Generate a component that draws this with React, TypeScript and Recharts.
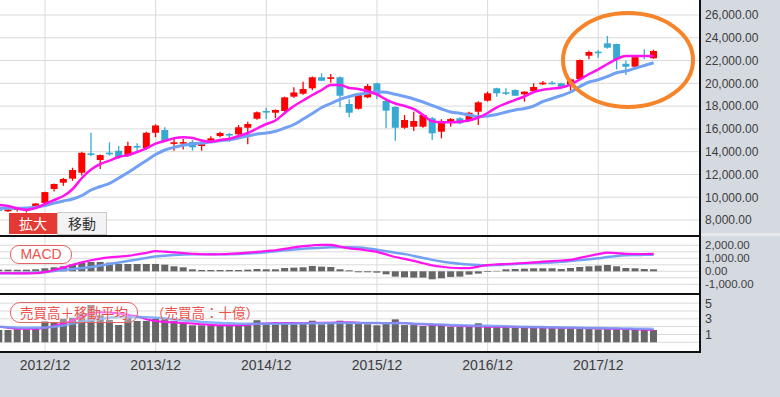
import React from 'react';
import { ComposedChart, Bar, Line, XAxis, YAxis, CartesianGrid } from 'recharts';

// month index 0 = 2012/07 ... 71 = 2018/06
const xTicks = [5, 17, 29, 41, 53, 65];
const xTickLabels = ['2012/12', '2013/12', '2014/12', '2015/12', '2016/12', '2017/12'];

const opens = [
  9100, 8765, 8880, 8820, 9100, 9500, 10720, 11275, 11630, 12150,
  13850, 13270, 13910, 14080, 13650, 14500, 14300, 15660, 15900, 14700,
  14700, 14850, 14500, 14940, 15375, 15550, 15525, 16100, 16895, 17570,
  17420, 17570, 18830, 19090, 19565, 20530, 20410, 20530, 18185, 17770,
  18770, 20000, 18450, 17920, 16100, 16190, 16190, 16930, 15755, 16600,
  16930, 16780, 17510, 18475, 19565, 19215, 19410, 19035, 19330, 19915,
  20060, 20000, 19880, 20380, 22425, 22780, 23510, 23450, 21720, 21460,
  22450, 22200,
];
const highs = [
  9150, 9000, 9100, 9140, 9480, 10480, 11200, 11680, 12590, 14000,
  15650, 13750, 14820, 14500, 14875, 14730, 15750, 16400, 16140, 15110,
  15110, 15025, 15000, 15350, 15750, 15665, 16340, 16630, 17520, 17860,
  17710, 18830, 19650, 20140, 20600, 20880, 20820, 20600, 18600, 19100,
  19940, 20050, 18650, 17980, 17220, 17510, 17300, 17050, 16850, 16950,
  17030, 17500, 18420, 19270, 19620, 19560, 19480, 19300, 20000, 20200,
  20200, 20060, 20400, 22100, 22870, 22925, 24155, 23480, 21990, 22300,
  22990, 22950,
];
const lows = [
  8700, 8700, 8750, 8650, 9000, 9400, 10500, 11000, 11450, 11900,
  13600, 12480, 13650, 13380, 13560, 14000, 14200, 15260, 14875, 14085,
  14200, 14085, 14085, 14900, 15260, 14875, 15460, 14650, 16800, 16840,
  16930, 17500, 18740, 19000, 19400, 20200, 20050, 17900, 17020, 17700,
  18700, 18600, 16050, 14960, 16000, 15810, 16100, 15025, 15170, 16190,
  16400, 16700, 16340, 18400, 18830, 18975, 18880, 18390, 19250, 19850,
  19900, 19620, 19350, 20300, 22110, 22250, 23050, 21230, 20730, 21400,
  22110, 22150,
];
const closes = [
  8810, 8940, 9030, 8965, 9450, 10450, 11160, 11600, 12390, 13900,
  13760, 13700, 13800, 13500, 14500, 14380, 15660, 16300, 14940, 14820,
  14840, 14380, 14660, 15170, 15640, 15440, 16140, 16430, 17455, 17460,
  17660, 18770, 19200, 19500, 20530, 20230, 20530, 18910, 17420, 19060,
  19770, 19030, 17600, 16100, 16780, 16690, 17220, 15610, 16545, 16860,
  16490, 17420, 18330, 19125, 19125, 19125, 18910, 19270, 19680, 20060,
  19970, 19700, 20350, 22050, 22750, 22750, 23130, 22110, 21460, 22300,
  22400, 22840,
];
const maShort = [
  9317, 9229, 9010, 8904, 9054, 9405, 9756, 10107, 10722, 11688,
  12434, 12917, 13207, 13531, 13707, 13970, 14295, 14699, 14936, 15173,
  15261, 15200, 14980, 14875, 15024, 15138, 15375, 15639, 16034, 16429,
  16736, 17395, 18009, 18492, 18975, 19414, 19853, 19853, 19590, 19502,
  19300, 19019, 18580, 18229, 18009, 17746, 17219, 16666, 16587, 16587,
  16631, 16736, 17000, 17395, 17895, 18237, 18554, 18843, 19238, 19432,
  19546, 19634, 19897, 20336, 20819, 21231, 21697, 22136, 22400, 22400,
  22400, 22400,
];
const maLong = [
  9027, 9027, 9027, 9054, 9115, 9273, 9493, 9668, 9844, 10151,
  10634, 10941, 11222, 11688, 12171, 12697, 13224, 13751, 14146, 14383,
  14559, 14673, 14761, 14848, 14963, 15050, 15200, 15375, 15551, 15639,
  15797, 16078, 16385, 16868, 17351, 17878, 18229, 18597, 18843, 19045,
  19151, 19265, 19212, 19036, 18843, 18624, 18360, 18053, 17746, 17482,
  17368, 17219, 17070, 17131, 17263, 17482, 17658, 17790, 18009, 18404,
  18668, 18931, 19238, 19721, 20116, 20310, 20600, 20933, 21082, 21319,
  21565, 21811,
];
const macdLine = [
  -150, -150, -155, -155, -150, -60, 100, 280, 500, 690,
  850, 980, 1070, 1130, 1190, 1300, 1420, 1550, 1510, 1460,
  1400, 1350, 1310, 1300, 1310, 1340, 1380, 1430, 1490, 1560,
  1620, 1720, 1840, 1940, 2000, 2040, 2040, 1900, 1770, 1700,
  1600, 1490, 1300, 1100, 950, 800, 620, 460, 350, 275,
  240, 250, 360, 480, 530, 560, 600, 640, 680, 740,
  790, 830, 880, 1030, 1180, 1320, 1430, 1400, 1340, 1330,
  1330, 1340,
];
const signalLine = [
  -150, -150, -140, -125, -110, -60, 30, 100, 170, 250,
  330, 440, 560, 680, 800, 910, 1030, 1130, 1200, 1260,
  1300, 1310, 1310, 1310, 1310, 1320, 1340, 1370, 1410, 1470,
  1540, 1610, 1680, 1730, 1780, 1820, 1845, 1850, 1850, 1830,
  1760, 1650, 1540, 1430, 1320, 1180, 1030, 880, 750, 660,
  580, 520, 480, 465, 480, 520, 560, 600, 630, 650,
  670, 730, 790, 860, 920, 1000, 1100, 1180, 1230, 1250,
  1265, 1280,
];
const macdHist = [
  128, 128, 128, 128, 154, 231, 308, 385, 513, 667,
  718, 718, 667, 564, 564, 564, 564, 564, 513, 385,
  308, 154, 100, 100, 100, 100, 100, 128, 180, 154,
  154, 256, 282, 308, 410, 359, 333, 154, 77, -77,
  -77, -103, -231, -410, -462, -487, -487, -615, -538, -436,
  -410, -256, -179, -50, 30, 154, 179, 205, 231, 231,
  231, 179, 256, 333, 385, 436, 487, 385, 256, 231,
  179, 154,
];
const volume = [
  1.57, 1.57, 1.66, 1.66, 1.79, 2.68, 2.59, 3.01, 3.14, 3.7,
  4.76, 3.45, 2.85, 2.21, 3.36, 2.72, 2.72, 3.01, 2.94, 2.72,
  2.43, 2.17, 2.17, 2.17, 2.17, 2.08, 2.08, 2.21, 2.81, 2.3,
  2.3, 2.5, 2.44, 2.38, 2.76, 2.3, 2.44, 2.76, 2.44, 2.38,
  2.3, 2.17, 2.59, 2.93, 2.2, 2.2, 2.08, 2.34, 2.17, 2.0,
  2.0, 2.0, 2.43, 2.08, 2.0, 2.0, 2.0, 2.0, 2.0, 1.91,
  1.91, 1.83, 1.91, 1.91, 1.83, 1.66, 1.74, 1.74, 1.74, 1.66,
  1.66, 1.57,
];
const volMaShort = [
  2.0, 1.85, 1.74, 1.74, 1.74, 1.85, 2.1, 2.4, 2.8, 3.3,
  3.65, 3.85, 3.8, 3.7, 3.5, 3.3, 2.95, 2.72, 2.6, 2.55,
  2.45, 2.4, 2.3, 2.22, 2.17, 2.17, 2.17, 2.25, 2.35, 2.4,
  2.45, 2.45, 2.45, 2.45, 2.5, 2.5, 2.5, 2.55, 2.55, 2.5,
  2.45, 2.45, 2.45, 2.5, 2.45, 2.35, 2.3, 2.25, 2.2, 2.15,
  2.1, 2.05, 2.05, 2.0, 2.0, 1.98, 1.95, 1.93, 1.92, 1.9,
  1.88, 1.86, 1.84, 1.82, 1.8, 1.78, 1.76, 1.72, 1.7, 1.66,
  1.62, 1.57,
];
const volMaLong = [
  2.0, 1.92, 1.87, 1.87, 1.87, 1.9, 2.0, 2.15, 2.4, 2.6,
  2.85, 3.0, 3.15, 3.23, 3.23, 3.23, 3.2, 3.14, 3.05, 2.9,
  2.8, 2.7, 2.6, 2.52, 2.46, 2.42, 2.38, 2.36, 2.36, 2.36,
  2.36, 2.38, 2.38, 2.4, 2.42, 2.44, 2.45, 2.47, 2.48, 2.48,
  2.47, 2.45, 2.44, 2.44, 2.42, 2.38, 2.34, 2.3, 2.26, 2.22,
  2.18, 2.14, 2.12, 2.1, 2.07, 2.04, 2.01, 1.98, 1.96, 1.94,
  1.92, 1.9, 1.88, 1.86, 1.84, 1.82, 1.8, 1.78, 1.76, 1.74,
  1.72, 1.7,
];

const priceTicks = [8000, 10000, 12000, 14000, 16000, 18000, 20000, 22000, 24000, 26000];
const macdTicks = [2000, 1000, 0, -1000];
const macdGrid = [-1000, -500, 0, 500, 1000, 1500, 2000];
const volTicks = [5, 3, 1];
const volGrid = [0, 1, 2, 3, 4, 5];

const data = opens.map((open, i) => ({
  i,
  open,
  high: highs[i],
  low: lows[i],
  close: closes[i],
  range: [lows[i], highs[i]],
  ma1: maShort[i],
  ma2: maLong[i],
  macd: macdLine[i],
  signal: signalLine[i],
  hist: macdHist[i],
  vol: volume[i],
  vma1: volMaShort[i],
  vma2: volMaLong[i],
}));

const X_DOMAIN: [number, number] = [0.12, 76.03];
const UP = '#ff0000';
const DOWN = '#37a9d2';
const PINK = '#ff14ee';
const BLUE = '#72a1f4';
const GRID = '#dadada';
const NUM_FONT = '"Liberation Sans", Arial, sans-serif';
const JP_FONT = '"Noto Sans CJK JP", sans-serif';
const M = { top: 0, right: 0, bottom: 0, left: 0 };

const Candle = (props: any) => {
  const { x, y, width, height, payload } = props;
  if (!payload || height == null) return null;
  const { open, close, high, low } = payload;
  const color = close >= open ? UP : DOWN;
  const top = Math.min(y, y + height);
  const h = Math.abs(height);
  const span = high - low || 1;
  const yOf = (v: number) => top + ((high - v) / span) * h;
  const bodyTop = yOf(Math.max(open, close));
  const bodyH = Math.max(1.6, yOf(Math.min(open, close)) - bodyTop);
  const cx = x + width / 2;
  return (
    <g>
      <line x1={cx} x2={cx} y1={top} y2={top + h} stroke={color} strokeWidth={1.3} />
      <rect x={x} y={bodyTop} width={width} height={bodyH} fill={color} />
    </g>
  );
};

const fmt2 = (v: number) =>
  v.toLocaleString('en-US', { minimumFractionDigits: 2, maximumFractionDigits: 2 });

const rightTick = (size: number, fmt: (v: number) => string) => (p: any) => (
  <text x={p.x} y={p.y} dy="0.36em" textAnchor="start" fontSize={size} fill="#3d3d3d" fontFamily={NUM_FONT}>
    {fmt(p.payload.value)}
  </text>
);

const BottomTick = (p: any) => {
  const k = xTicks.indexOf(p.payload.value);
  return (
    <text x={p.x} y={p.y} dy="0.71em" textAnchor="middle" fontSize={14} fill="#3d3d3d" fontFamily={NUM_FONT}>
      {xTickLabels[k]}
    </text>
  );
};

const abs = (l: number, t: number, w: number, h: number, extra: React.CSSProperties = {}): React.CSSProperties => ({
  position: 'absolute', left: l, top: t, width: w, height: h, ...extra,
});

export default function App() {
  return (
    <div style={{ position: 'absolute', left: 0, top: 0, width: 780, height: 397, background: '#d5d9e0', overflow: 'hidden', fontFamily: NUM_FONT }}>
      <div style={abs(0, 0, 700, 352, { background: '#fff' })} />
      <div style={abs(701, 233, 79, 3, { background: '#e6e8ec' })} />

      <div style={abs(0, 0, 780, 236)}>
        <ComposedChart width={780} height={236} data={data} margin={M}>
          <CartesianGrid stroke={GRID} horizontalValues={priceTicks} verticalValues={xTicks} />
          <XAxis dataKey="i" type="number" domain={X_DOMAIN} allowDataOverflow ticks={xTicks} hide />
          <YAxis orientation="right" width={80} domain={[6595, 27317]} allowDataOverflow ticks={priceTicks}
            interval={0} axisLine={false} tickLine={false} tickSize={0} tickMargin={5} tick={rightTick(12, fmt2)} />
          <Bar dataKey="range" barSize={7} shape={Candle} isAnimationActive={false} />
          <Line dataKey="ma2" type="monotone" stroke={BLUE} strokeWidth={3} dot={false} isAnimationActive={false} />
          <Line dataKey="ma1" type="monotone" stroke={PINK} strokeWidth={2.5} dot={false} isAnimationActive={false} />
        </ComposedChart>
      </div>

      <div style={abs(0, 236, 780, 58)}>
        <ComposedChart width={780} height={58} data={data} margin={M}>
          <CartesianGrid stroke={GRID} horizontalValues={macdGrid} verticalValues={xTicks} />
          <XAxis dataKey="i" type="number" domain={X_DOMAIN} allowDataOverflow ticks={xTicks} hide />
          <YAxis orientation="right" width={80} domain={[-1746, 2715]} allowDataOverflow ticks={macdTicks}
            interval={0} axisLine={false} tickLine={false} tickSize={0} tickMargin={5} tick={rightTick(11.5, fmt2)} />
          <Bar dataKey="hist" barSize={7} fill="#666666" isAnimationActive={false} />
          <Line dataKey="signal" type="monotone" stroke={BLUE} strokeWidth={2.5} dot={false} isAnimationActive={false} />
          <Line dataKey="macd" type="monotone" stroke={PINK} strokeWidth={2.2} dot={false} isAnimationActive={false} />
        </ComposedChart>
      </div>

      <div style={abs(0, 294, 780, 103)}>
        <ComposedChart width={780} height={103} data={data} margin={M}>
          <CartesianGrid stroke={GRID} horizontalValues={volGrid} verticalValues={xTicks} />
          <XAxis dataKey="i" type="number" domain={X_DOMAIN} allowDataOverflow ticks={xTicks} interval={0}
            height={45} axisLine={false} tickLine={false} tickSize={0} tickMargin={8} tick={BottomTick} />
          <YAxis orientation="right" width={80} domain={[-1.24, 6.17]} allowDataOverflow ticks={volTicks}
            interval={0} axisLine={false} tickLine={false} tickSize={0} tickMargin={5} tick={rightTick(12.5, (v) => String(v))} />
          <Bar dataKey="vol" barSize={7} fill="#666666" isAnimationActive={false} />
          <Line dataKey="vma1" type="monotone" stroke={PINK} strokeWidth={2} dot={false} isAnimationActive={false} />
          <Line dataKey="vma2" type="monotone" stroke={BLUE} strokeWidth={2.5} strokeOpacity={0.85} dot={false} isAnimationActive={false} />
        </ComposedChart>
      </div>

      {/* panel borders */}
      <div style={abs(0, 235, 700, 2, { background: '#111' })} />
      <div style={abs(0, 293, 700, 2, { background: '#111' })} />
      <div style={abs(0, 351, 700, 2, { background: '#111' })} />
      <div style={abs(699, 0, 2, 353, { background: '#111' })} />

      {/* buttons */}
      <div style={abs(9, 213, 48, 21, { background: '#e53935', color: '#fff', fontFamily: JP_FONT, fontSize: 14, lineHeight: '21px', textAlign: 'center' })}>拡大</div>
      <div style={abs(57, 212, 48, 21, { background: '#f3f3f3', border: '1px solid #c9c9c9', color: '#333', fontFamily: JP_FONT, fontSize: 14, lineHeight: '21px', textAlign: 'center' })}>移動</div>

      {/* panel labels */}
      <div style={abs(10, 245, 60, 17, { border: '1px solid #e36464', borderRadius: 9, background: '#fff', color: '#e9524d', fontSize: 14, lineHeight: '17px', textAlign: 'center', fontFamily: NUM_FONT })}>MACD</div>
      <div style={abs(10, 302, 126, 19, { border: '1px solid #e36464', borderRadius: 10, background: 'rgba(255,255,255,0.3)', color: '#e9524d', fontSize: 13.5, lineHeight: '19px', textAlign: 'center', fontFamily: JP_FONT, textShadow: '0 0 2px rgba(255,255,255,0.9)' })}>売買高＋移動平均</div>
      <div style={abs(151, 302, 110, 21, { color: '#e9524d', fontSize: 13.5, lineHeight: '21px', fontFamily: JP_FONT, whiteSpace: 'nowrap', textShadow: '0 0 2px rgba(255,255,255,0.9)' })}>（売買高：十億）</div>

      {/* annotation */}
      <svg width={780} height={397} style={{ position: 'absolute', left: 0, top: 0, pointerEvents: 'none' }}>
        <ellipse cx={628} cy={60} rx={65} ry={47} fill="none" stroke="#f5842b" strokeWidth={4} />
      </svg>
    </div>
  );
}
